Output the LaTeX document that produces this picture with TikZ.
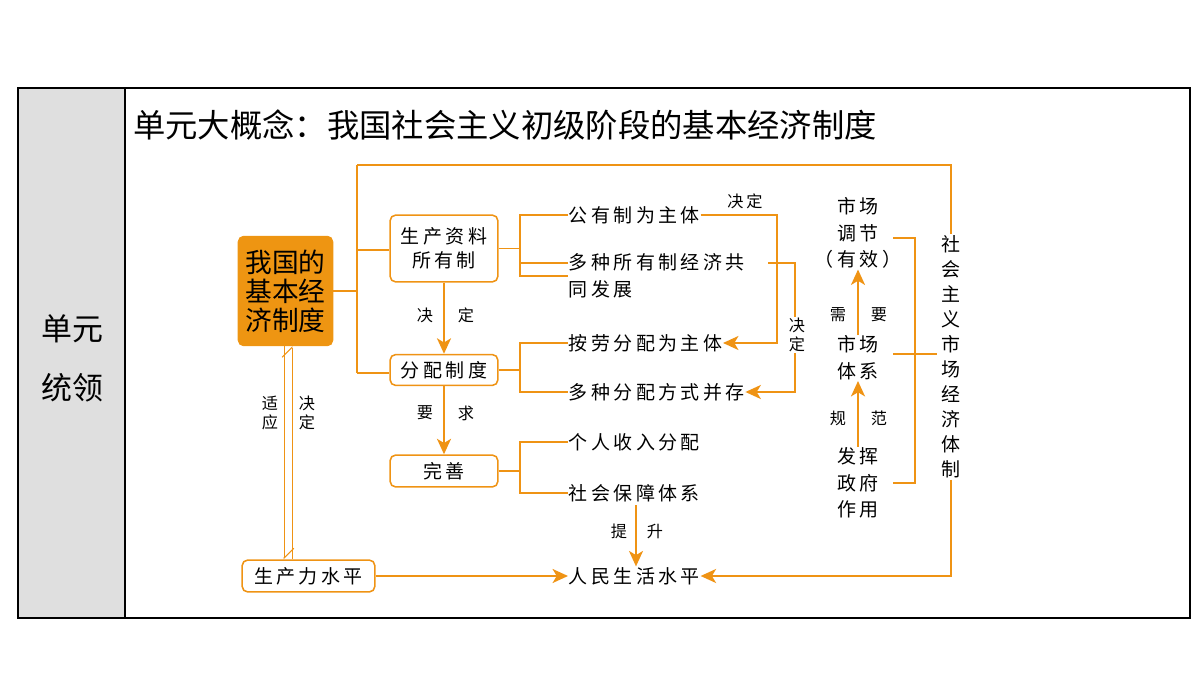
\documentclass[tikz,border=0pt]{standalone}
\usepackage{fontspec}
\newfontfamily\cjk[LetterSpace=18]{Noto Sans CJK SC}
\newfontfamily\cjktight{Noto Sans CJK SC}
\usetikzlibrary{arrows.meta, positioning}
\definecolor{lineor}{HTML}{EF9314}
\definecolor{boxor}{HTML}{EE9512}

\begin{document}
\begin{tikzpicture}[x=0.05cm, y=-0.05cm,
    ln/.style={draw=lineor, line width=2.6pt},
    arr/.style={ln, -{Stealth[length=22pt, width=20pt, inset=6pt]}},
    thin/.style={draw=lineor, line width=1.4pt},
    box/.style={draw=lineor, line width=2.2pt, rounded corners=8pt, fill=white,
      font=\cjk\fontsize{27}{34}\selectfont, inner sep=0pt, align=center},
    txt/.style={font=\cjk\fontsize{27}{38}\selectfont, inner sep=1pt},
    lbl/.style={font=\cjk\fontsize{23}{28}\selectfont, inner sep=1pt}]
    \useasboundingbox (0, 0) rectangle (1200, 675);
    % frame
    \fill [gray!25] (18, 88) rectangle (125, 618);
    \draw [line width=2pt] (18, 88) rectangle (1190, 618);
    \draw [line width=2pt] (125, 88) -- (125, 618);
    \node (Lead) at (72, 358) [font=\cjktight\fontsize{44}{84}\selectfont, align=center] {单元\\统领};
    \node (Title) at (133, 125) [anchor=west, inner sep=0pt,
      font=\cjktight\fontsize{46}{50}\selectfont] {单元大概念：我国社会主义初级阶段的基本经济制度};

    % boxes
    \node (Core) at (285.5, 291) [draw=boxor, fill=boxor, rounded corners=8pt, line width=1pt,
      minimum width=95*1.42pt, text width=85*1.42pt, align=center, minimum height=110*1.42pt,
      font=\cjktight\fontsize{38}{41}\selectfont, inner sep=0pt] {我国的\\基本经\\济制度};
    \node (Own)  at (444, 248.5) [box, minimum width=108*1.42pt, minimum height=67*1.42pt] {生产资料\\所有制};
    \node (Dist) at (444, 370)   [box, minimum width=108*1.42pt, minimum height=31*1.42pt] {分配制度};
    \node (Impr) at (444, 471)   [box, minimum width=108*1.42pt, minimum height=32*1.42pt] {完善};
    \node (Prod) at (308.5, 576) [box, minimum width=133*1.42pt, minimum height=32*1.42pt] {生产力水平};

    % list items
    \node (Pub)   at (568, 215) [txt, anchor=west] {公有制为主体};
    \node (Multi) at (568, 276) [txt, anchor=west, align=left] {多种所有制经济共\\同发展};
    \node (Labor) at (568, 343) [txt, anchor=west] {按劳分配为主体};
    \node (Ways)  at (568, 392) [txt, anchor=west] {多种分配方式并存};
    \node (Inc)   at (568, 442) [txt, anchor=west] {个人收入分配};
    \node (Sec)   at (568, 493) [txt, anchor=west] {社会保障体系};
    \node (Life)  at (568, 576) [txt, anchor=west] {人民生活水平};

    % market column
    \node (Reg) at (858, 233) [txt, align=center] {市场\\调节\\（有效）};
    \node (Sys) at (858, 358) [txt, align=center] {市场\\体系};
    \node (Gov) at (858, 483) [txt, align=center] {发挥\\政府\\作用};
    \node (Soc) at (951, 357) [font=\cjktight\fontsize{27}{35.5}\selectfont, align=center, inner sep=2pt]
      {社\\会\\主\\义\\市\\场\\经\\济\\体\\制};

    % brackets
    \coordinate (Jc) at (357, 291);
    \draw [ln] (Core.east |- Jc) -- (Jc);
    \draw [ln] (357, 165) -- (357, 373);
    \draw [ln] (357, 165) -| (Soc.north);
    \draw [ln] (357, 250) -- (Own.west |- 0, 250);
    \draw [ln] (357, 373) -- (Dist.west |- 0, 373);
    \foreach \b/\u/\d in {Own/Pub/Multi, Dist/Labor/Ways, Impr/Inc/Sec} {
        \draw [ln] (\b.east) -- (520, 0 |- \b.east);
        \draw [ln] (Pub.west |- \u.west) -| (520, 0 |- \d.west) -- (Pub.west |- \d.west);
    }
    \draw [ln] (Pub.west |- 0, 263) -- (520, 263);
    \draw [ln] (893, 238) -| (915, 483) -- (893, 483);
    \draw [ln] (893, 354) -- (937, 354);

    % decisions on the right
    \draw [arr] (Pub.east) -| (777, 0 |- Labor.east) -- (Labor.east);
    \node (Dec1) at (745, 201) [lbl] {决定};
    \draw [arr] (768, 263) -| (795, 0 |- Ways.east) -- (Ways.east);
    \node (Dec2) at (797, 335) [lbl, fill=white, align=center] {决\\定};

    % downward arrows
    \draw [arr] (Own.south) -- (Dist.north);
    \node at (425, 315) [lbl] {决}; \node at (466, 315) [lbl] {定};
    \draw [arr] (Dist.south) -- (Impr.north);
    \node at (425, 413) [lbl] {要}; \node at (466, 413) [lbl] {求};
    \draw [arr] (636, 505) -- (636, 0 |- Life.north);
    \node at (619, 531) [lbl] {提}; \node at (655, 531) [lbl] {升};
    \draw [arr] (Prod.east) -- (Life.west);
    \draw [arr] (Soc.south) -- (951, 576) -- (Life.east);

    % market arrows
    \draw [arr] (Sys.north) -- (Reg.south);
    \node at (838, 315) [lbl] {需}; \node at (879, 315) [lbl] {要};
    \draw [arr] (Gov.north) -- (Sys.south);
    \node at (838, 418) [lbl] {规}; \node at (879, 418) [lbl] {范};

    % productivity and the core
    \draw [thin, -{Straight Barb[left, length=14pt]}] (284, 0 |- Core.south) -- (284, 0 |- Prod.north);
    \draw [thin, -{Straight Barb[left, length=14pt]}] (292, 0 |- Prod.north) -- (292, 0 |- Core.south);
    \node at (270, 413) [lbl, align=center] {适\\应};
    \node at (307, 413) [lbl, align=center] {决\\定};
\end{tikzpicture}
\end{document}
